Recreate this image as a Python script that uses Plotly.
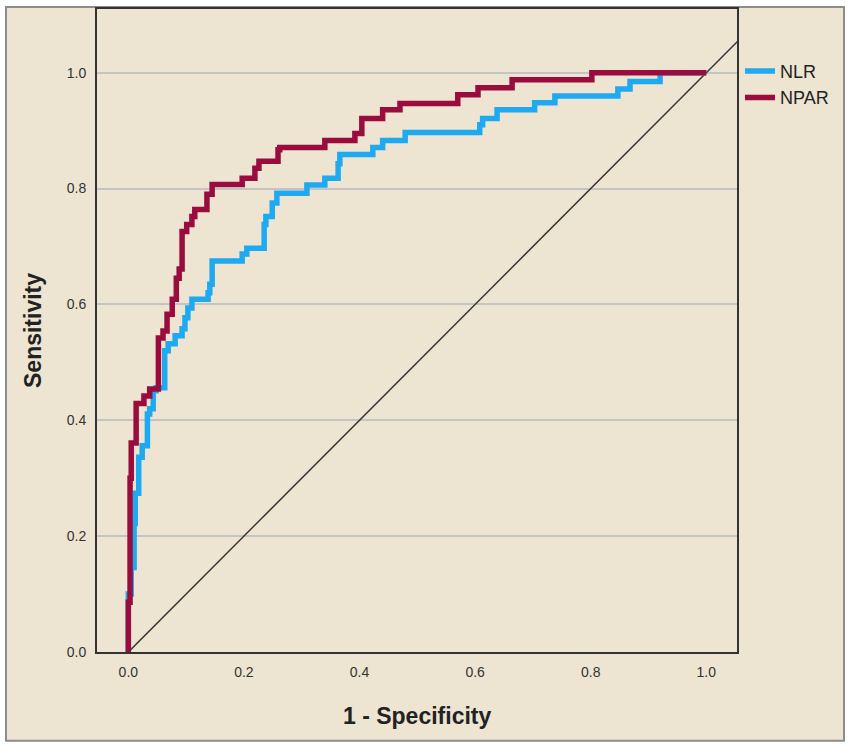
import plotly.graph_objects as go

# ROC step vertices (1 - Specificity, Sensitivity)
nlr_fpr = [0.0, 0.0, 0.005, 0.010, 0.012, 0.018, 0.024, 0.033, 0.037, 0.043, 0.048,
           0.063, 0.069, 0.081, 0.093, 0.098, 0.103, 0.110, 0.138, 0.141, 0.145,
           0.197, 0.205, 0.235, 0.238, 0.249, 0.257, 0.309, 0.340, 0.363, 0.366,
           0.423, 0.440, 0.479, 0.608, 0.613, 0.638, 0.703, 0.738, 0.847, 0.868,
           0.920, 1.0]
nlr_tpr = [0.0, 0.100, 0.146, 0.222, 0.274, 0.336, 0.356, 0.411, 0.420, 0.451, 0.456,
           0.520, 0.532, 0.546, 0.558, 0.577, 0.594, 0.609, 0.620, 0.635, 0.675,
           0.687, 0.697, 0.738, 0.752, 0.775, 0.792, 0.806, 0.818, 0.843, 0.859,
           0.871, 0.883, 0.897, 0.910, 0.921, 0.936, 0.948, 0.960, 0.972, 0.985,
           1.0, 1.0]

npar_fpr = [0.0, 0.0, 0.003, 0.005, 0.0135, 0.027, 0.037, 0.052, 0.060, 0.067,
            0.076, 0.083, 0.088, 0.093, 0.101, 0.110, 0.115, 0.136, 0.145, 0.197,
            0.219, 0.226, 0.259, 0.262, 0.340, 0.392, 0.404, 0.440, 0.470, 0.570,
            0.605, 0.664, 0.802, 1.0]
npar_tpr = [0.0, 0.086, 0.300, 0.361, 0.429, 0.442, 0.454, 0.542, 0.554, 0.583,
            0.609, 0.645, 0.661, 0.726, 0.738, 0.752, 0.764, 0.790, 0.807, 0.818,
            0.835, 0.847, 0.867, 0.871, 0.883, 0.895, 0.921, 0.936, 0.947, 0.962,
            0.974, 0.988, 1.0, 1.0]

ref_x = [0.0, 1.1]
ref_y = [0.0, 1.1]

tick_vals = [0.0, 0.2, 0.4, 0.6, 0.8, 1.0]
tick_text = ["0.0", "0.2", "0.4", "0.6", "0.8", "1.0"]

BLUE = "#1fa9f1"
RED = "#9b0c3e"
BEIGE = "#ede5d2"

fig = go.Figure()
fig.add_trace(go.Scatter(x=ref_x, y=ref_y, mode="lines", showlegend=False,
                         line=dict(color="#333333", width=1.5), hoverinfo="skip"))
fig.add_trace(go.Scatter(x=nlr_fpr, y=nlr_tpr, mode="lines", name="NLR",
                         line=dict(color=BLUE, width=5.5, shape="hv")))
fig.add_trace(go.Scatter(x=npar_fpr, y=npar_tpr, mode="lines", name="NPAR",
                         line=dict(color=RED, width=5.5, shape="hv")))

W, H = 851, 749
L, R, T, B = 97, 737, 7, 652
pw, ph = R - L, B - T

def px_x(p):
    return (p - L) / pw

def px_y(p):
    return (B - p) / ph

fig.add_shape(type="rect", xref="paper", yref="paper",
              x0=px_x(6), x1=px_x(844), y0=px_y(741), y1=px_y(5),
              fillcolor=BEIGE, line=dict(color="#8c8c8c", width=2), layer="below")

font_family = "Liberation Sans, Arial, sans-serif"

fig.update_layout(
    width=W, height=H,
    margin=dict(l=L, r=W - R, t=T, b=H - B),
    paper_bgcolor="white",
    plot_bgcolor="white",
    font=dict(family=font_family, color="#333333"),
    xaxis=dict(range=[-0.0542, 1.0531], tickvals=tick_vals, ticktext=tick_text,
               showgrid=False, zeroline=False, showline=True, mirror=True,
               linecolor="#333333", linewidth=2, ticks="outside", ticklen=6,
               tickcolor="rgba(0,0,0,0)", tickfont=dict(size=14, color="#333333")),
    yaxis=dict(range=[0, 1.110], tickvals=tick_vals, ticktext=tick_text,
               showgrid=True, gridcolor="#c4c4c4", gridwidth=2, zeroline=False,
               showline=True, mirror=True, linecolor="#333333", linewidth=2,
               ticks="outside", ticklen=6, tickcolor="rgba(0,0,0,0)",
               tickfont=dict(size=14, color="#333333")),
    legend=dict(x=px_x(740), y=px_y(51), xanchor="left", yanchor="top",
                bgcolor="rgba(0,0,0,0)", font=dict(size=18, color="#222222"),
                itemwidth=30, tracegroupgap=0),
    showlegend=True,
    annotations=[
        dict(text="<b>1 - Specificity</b>", xref="paper", yref="paper",
             x=px_x(417), y=px_y(716), xanchor="center", yanchor="middle",
             showarrow=False, font=dict(size=23, color="#222222")),
        dict(text="<b>Sensitivity</b>", xref="paper", yref="paper",
             x=px_x(33), y=px_y(330), xanchor="center", yanchor="middle",
             textangle=-90, showarrow=False, font=dict(size=23, color="#222222")),
    ],
)

fig.write_html("out.html", config={"displayModeBar": False},
               post_script="document.body.style.margin='0px';")
